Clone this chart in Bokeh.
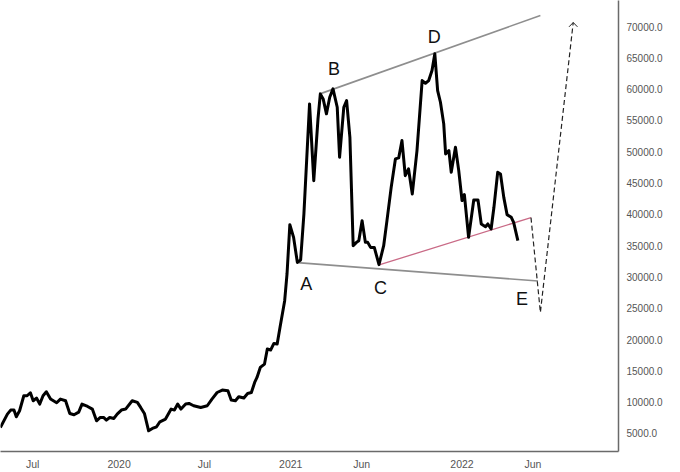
import pandas as pd
from bokeh.plotting import figure
from bokeh.models import Range1d, FixedTicker, NumeralTickFormatter
from bokeh.core.properties import value
from bokeh.embed import file_html
from bokeh.resources import INLINE

# price line
dates = [
    "2019-04-23", "2019-05-08", "2019-05-15", "2019-05-22", "2019-05-27", "2019-06-03", "2019-06-12", "2019-06-19", "2019-06-26", "2019-07-02",
    "2019-07-09", "2019-07-16", "2019-07-23", "2019-07-30", "2019-08-08", "2019-08-21", "2019-08-29", "2019-09-09", "2019-09-18", "2019-09-27",
    "2019-10-07", "2019-10-14", "2019-10-26", "2019-11-05", "2019-11-14", "2019-11-22", "2019-11-29", "2019-12-05", "2019-12-12", "2019-12-21",
    "2019-12-28", "2020-01-06", "2020-01-15", "2020-01-29", "2020-02-09", "2020-02-16", "2020-02-24", "2020-03-04", "2020-03-12", "2020-03-21",
    "2020-03-28", "2020-04-09", "2020-04-21", "2020-04-28", "2020-05-05", "2020-05-12", "2020-05-22", "2020-05-29", "2020-06-08", "2020-06-23",
    "2020-07-07", "2020-07-17", "2020-07-28", "2020-08-08", "2020-08-20", "2020-08-27", "2020-09-05", "2020-09-12", "2020-09-23", "2020-10-01",
    "2020-10-09", "2020-10-16", "2020-10-21", "2020-10-28", "2020-11-06", "2020-11-12", "2020-11-19", "2020-11-26", "2020-12-03", "2020-12-09",
    "2020-12-19", "2020-12-24", "2020-12-30", "2021-01-07", "2021-01-15", "2021-01-22", "2021-01-29", "2021-02-10", "2021-02-19", "2021-02-28",
    "2021-03-05", "2021-03-11", "2021-03-18", "2021-03-25", "2021-04-01", "2021-04-10", "2021-04-15", "2021-04-24", "2021-04-30", "2021-05-07",
    "2021-05-14", "2021-05-21", "2021-05-26", "2021-06-02", "2021-06-09", "2021-06-14", "2021-06-20", "2021-06-28", "2021-07-08", "2021-07-18",
    "2021-07-25", "2021-08-03", "2021-08-12", "2021-08-19", "2021-08-26", "2021-09-02", "2021-09-09", "2021-09-17", "2021-09-27", "2021-10-08",
    "2021-10-15", "2021-10-22", "2021-10-29", "2021-11-04", "2021-11-10", "2021-11-16", "2021-11-23", "2021-11-27", "2021-12-04", "2021-12-09",
    "2021-12-18", "2021-12-25", "2022-01-01", "2022-01-06", "2022-01-15", "2022-01-26", "2022-02-04", "2022-02-11", "2022-02-20", "2022-02-25",
    "2022-03-04", "2022-03-10", "2022-03-18", "2022-03-24", "2022-03-31", "2022-04-07", "2022-04-16", "2022-04-21", "2022-04-30",
]
prices = [
    5960, 8100, 8740, 8740, 7670, 8630, 11030, 11030, 11510, 10230,
    10660, 9700, 11030, 11670, 10500, 9910, 10500, 10230, 8200, 7990,
    8420, 9700, 9320, 8900, 7030, 7560, 7560, 7140, 7560, 7400,
    8100, 8740, 8900, 10230, 9960, 9160, 8200, 5430, 5800, 6070,
    6870, 7300, 8900, 8740, 9700, 8900, 9700, 9800, 9430, 9160,
    9430, 10500, 11550, 11940, 11830, 10340, 10230, 10870, 10660, 11390,
    11550, 13150, 13950, 15550, 16090, 18490, 18330, 19390, 19290, 21940,
    26210, 30480, 38360, 36330, 32330, 32720, 40070, 57650, 45390, 55260,
    59250, 58450, 56060, 58710, 60050, 57110, 49120, 57110, 58180, 52320,
    35000, 35530, 35800, 39000, 35530, 35530, 34730, 34730, 31970, 35000,
    39000, 44320, 48860, 49020, 51790, 46190, 47260, 43270, 50190, 61380,
    60950, 61380, 62980, 65650, 59780, 57910, 54460, 49660, 50190, 46720,
    50720, 46990, 42200, 43160, 36330, 42310, 42310, 38470, 38040, 38470,
    37670, 41130, 46720, 46460, 42720, 39960, 39530, 38730, 35800,
]

# drawn trend lines
upper_dates = ["2021-03-04", "2022-06-17"]
upper_prices = [59250, 71770]
lower_dates = ["2021-01-15", "2022-06-12"]
lower_prices = [32290, 29360]
red_dates = ["2021-07-10", "2022-05-28"]
red_prices = [31970, 39480]

# dashed projection and its arrow head
proj_dates = ["2022-05-28", "2022-06-17", "2022-08-26"]
proj_prices = [39480, 24340, 70650]
arrow_dates = ["2022-08-17", "2022-08-26", "2022-09-04"]
arrow_prices = [69960, 70650, 69960]

# wave labels
wave_labels = ["A", "B", "C", "D", "E"]
wave_dates = ["2021-02-03", "2021-04-03", "2021-07-11", "2021-11-03", "2022-05-09"]
wave_prices = [28880, 63250, 28240, 68410, 26480]

# axes
x_tick_dates = ["2019-07-01", "2020-01-01", "2020-07-01", "2021-01-01", "2021-06-01", "2022-01-01", "2022-06-01"]
x_tick_labels = ["Jul", "2020", "Jul", "2021", "Jun", "2022", "Jun"]
y_ticks = [5000, 10000, 15000, 20000, 25000, 30000, 35000, 40000, 45000, 50000, 55000, 60000, 65000, 70000]


def to_dt(lst):
    return pd.to_datetime(lst)


base = pd.Timestamp("2021-01-01")
x_start = base + pd.Timedelta(days=-618.7)
x_end = base + pd.Timedelta(days=698.5)

p = figure(
    width=680, height=472,
    x_axis_type="datetime", y_axis_location="right",
    x_range=Range1d(x_start, x_end), y_range=Range1d(2123, 74166),
    output_backend="svg", toolbar_location=None,
    min_border_left=0, min_border_top=0, min_border_right=62, min_border_bottom=21,
)
p.outline_line_color = None
p.grid.visible = False
p.background_fill_color = "white"
p.border_fill_color = "white"

p.line(to_dt(upper_dates), upper_prices, line_color="#8e8e8e", line_width=1.6)
p.line(to_dt(lower_dates), lower_prices, line_color="#8e8e8e", line_width=1.6)
p.line(to_dt(red_dates), red_prices, line_color="#c96a86", line_width=1.3)
p.line(to_dt(proj_dates), proj_prices, line_color="#222222", line_width=1.2, line_dash="5 3")
p.line(to_dt(arrow_dates), arrow_prices, line_color="#222222", line_width=1.0)

p.line(to_dt(dates), prices, line_color="#000000", line_width=3, line_join="round")

p.text(x=to_dt(wave_dates), y=wave_prices, text=wave_labels,
       text_font=value("Liberation Sans"), text_font_size="18px",
       text_align="center", text_baseline="middle", text_color="#111111")

# bottom axis
xticks_ms = [int(pd.Timestamp(d).value // 10**6) for d in x_tick_dates]
p.xaxis.ticker = FixedTicker(ticks=xticks_ms)
p.xaxis.major_label_overrides = {t: lab for t, lab in zip(xticks_ms, x_tick_labels)}
p.xaxis.minor_tick_line_color = None
p.xaxis.major_tick_out = 0
p.xaxis.major_tick_in = 0
p.xaxis.major_label_standoff = 6
p.xaxis.axis_line_color = "#6a6a6a"
p.xaxis.axis_line_width = 1.5
p.xaxis.major_label_text_font = "Liberation Sans"
p.xaxis.major_label_text_font_size = "10.5px"
p.xaxis.major_label_text_color = "#555555"

# right price axis
p.yaxis.ticker = FixedTicker(ticks=y_ticks)
p.yaxis.formatter = NumeralTickFormatter(format="0.0")
p.yaxis.minor_tick_line_color = None
p.yaxis.major_tick_out = 0
p.yaxis.major_tick_in = 0
p.yaxis.major_label_standoff = 8
p.yaxis.axis_line_color = "#6a6a6a"
p.yaxis.axis_line_width = 1.5
p.yaxis.major_label_text_font = "Liberation Sans"
p.yaxis.major_label_text_font_size = "10px"
p.yaxis.major_label_text_color = "#555555"

open("out.html", "w").write(file_html(p, INLINE))
